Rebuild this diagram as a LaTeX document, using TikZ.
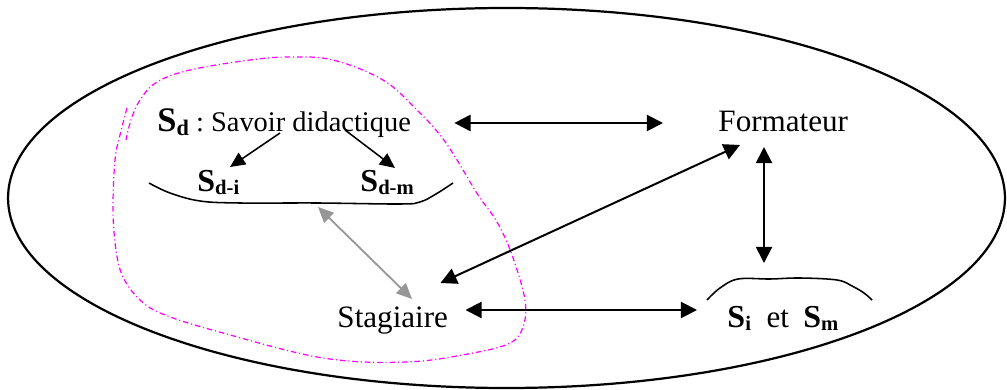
\documentclass[tikz,border=0pt]{standalone}
\usepackage{fontspec}
\setmainfont{Liberation Serif}
\usetikzlibrary{arrows.meta,calc}
\definecolor{mg}{RGB}{255,0,255}
\definecolor{gr}{RGB}{150,150,150}
\begin{document}
\begin{tikzpicture}[x=0.45pt,y=-0.45pt,
  lbl/.style={inner sep=0pt, anchor=base west},
  ell/.style={line width=1pt},
  dbl/.style={{Triangle[length=7.3pt,width=7.3pt]}-{Triangle[length=7.3pt,width=7.3pt]}, line width=0.9pt},
  sgl/.style={-{Triangle[length=6.8pt,width=6.2pt]}, line width=0.7pt},
  gry/.style={{Triangle[length=7pt,width=6.2pt]}-{Triangle[length=7pt,width=6.2pt]}, line width=0.8pt, draw=gr, fill=gr},
  brace/.style={line width=0.7pt},
  mag/.style={draw=mg, line width=0.55pt, dash pattern=on 2.5pt off 1.3pt on 0.5pt off 1.3pt}
]
\useasboundingbox (0,0) rectangle (1007,390);

% outer ellipse
\draw[ell] (506.5,198) ellipse [x radius=224.3pt, y radius=85.5pt];

% magenta dash-dot loop
\draw[mag] plot[smooth, tension=0.6] coordinates {(127,108) (120,135) (115,160) (113,210) (116,250) (123,277) (140,300) (165,315) (223,333) (323,358) (407,362) (473,353) (510,343) (523,327) (525,300) (512,255) (497,222) (478,195) (457,160) (440,135) (417,110) (383,80) (333,60) (290,57) (250,60) (190,70) (157,82) (140,100) (131,120) (126,140)};

% text nodes
\node[lbl] (sd) at (157,132) {\fontsize{15.5}{18}\selectfont\bfseries S\raisebox{-1.8pt}{\fontsize{10}{12}\selectfont d}\fontsize{12.8}{15}\selectfont\mdseries\ :\ Savoir didactique};
\node[lbl] (sdi) at (197,192) {\fontsize{14.4}{17}\selectfont\bfseries S\raisebox{-1.2pt}{\fontsize{9.3}{11}\selectfont d-i}};
\node[lbl] (sdm) at (360,192) {\fontsize{14.4}{17}\selectfont\bfseries S\raisebox{-1.2pt}{\fontsize{9.3}{11}\selectfont d-m}};
\node[lbl] (form) at (718,132) {\fontsize{14}{17}\selectfont Formateur};
\node[lbl] (stag) at (337,328) {\fontsize{14}{17}\selectfont Stagiaire};
\node[lbl] (sim) at (727,328) {\fontsize{14.4}{17}\selectfont\bfseries S\raisebox{-1.2pt}{\fontsize{9.3}{11}\selectfont i}\hspace{7pt}{\fontsize{14}{17}\selectfont\mdseries et}\hspace{6.5pt}S\raisebox{-1.2pt}{\fontsize{9.3}{11}\selectfont m}};

% braces
\draw[brace] plot[smooth, tension=0.6] coordinates {(149,183) (170,193) (200,201) (240,203) (317,203) (400,204) (420,202) (436,194) (453,183)};
\draw[brace] plot[smooth, tension=0.6] coordinates {(707,300) (720,288) (738,279) (770,279) (800,278) (837,280) (852,286) (864,293) (872,300)};

% connectors
\draw[dbl] ($(sd.base east)+(43,-9)$) -- ($(form.base west)+(-55,-9)$);
\draw[dbl] ($(form.base west)+(46,15)$) -- ($(sim.base west)+(37,-65)$);
\draw[dbl] ($(stag.base east)+(17,-18)$) -- ($(sim.base west)+(-30,-18)$);
\draw[dbl] ($(stag.base east)+(-8,-45)$) -- ($(form.base west)+(22,13)$);
\draw[gry] ($(sdi.base west)+(121,15)$) -- ($(stag.base west)+(75,-29)$);
\draw[sgl] ($(sd.base west)+(123,1)$) -- ($(sdi.base west)+(33,-25)$);
\draw[sgl] ($(sd.base west)+(188,-2)$) -- ($(sdm.base west)+(35,-24)$);
\end{tikzpicture}
\end{document}
